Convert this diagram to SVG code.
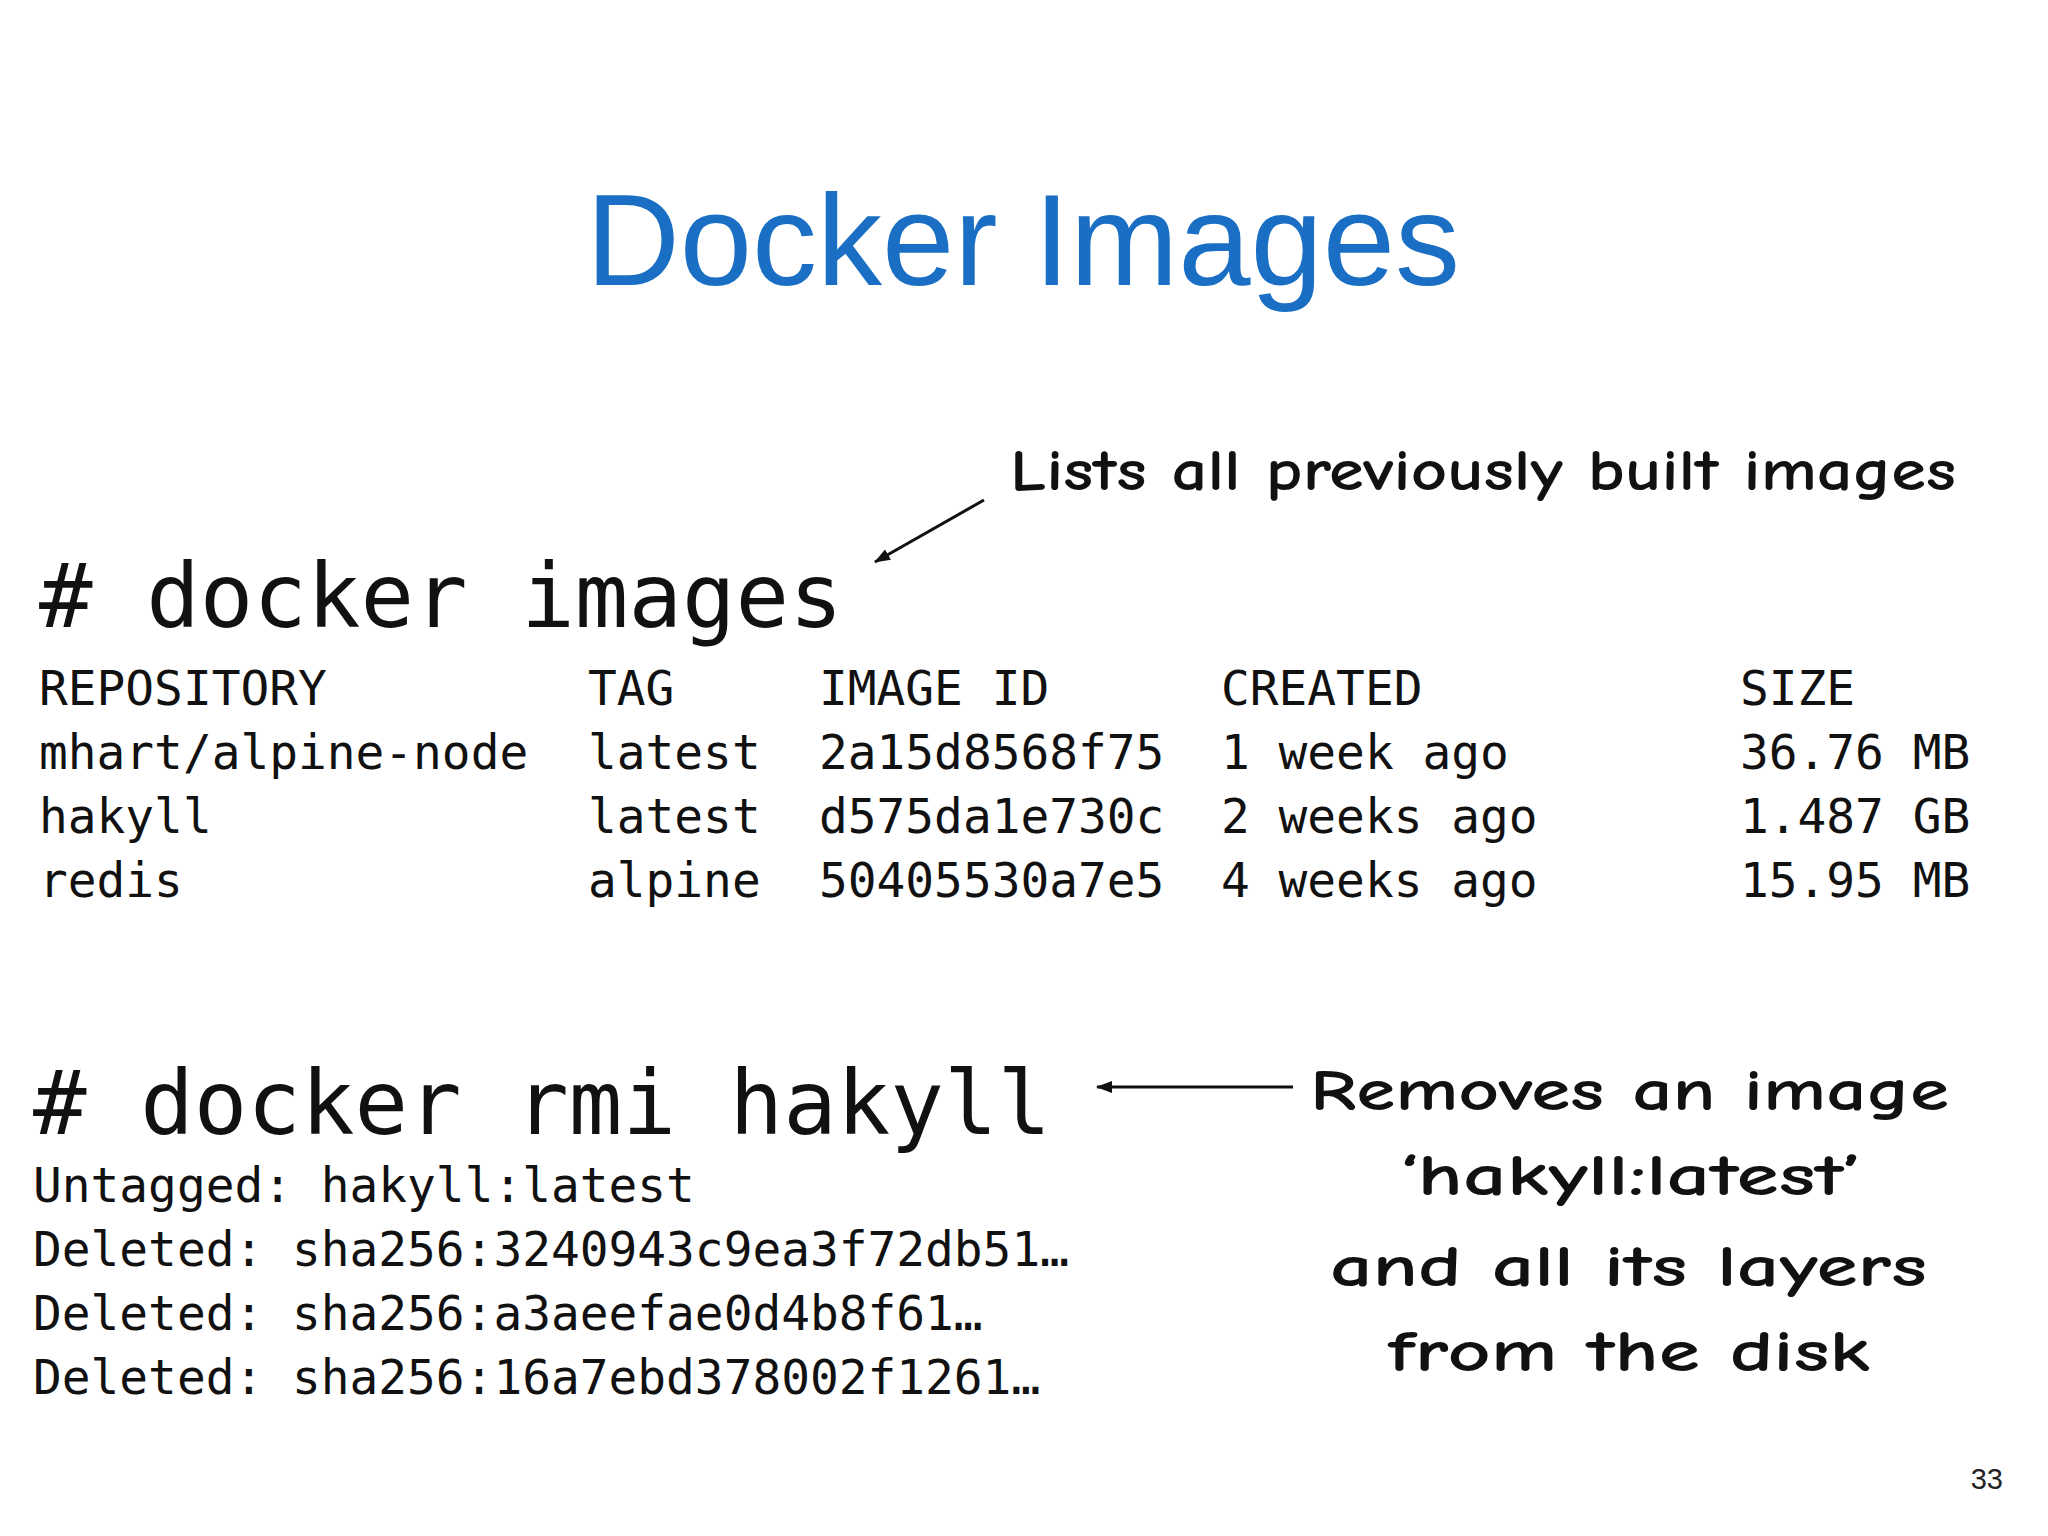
<svg xmlns="http://www.w3.org/2000/svg" width="2048" height="1536" viewBox="0 0 2048 1536">
<style>
.m{font-family:"DejaVu Sans Mono","Liberation Mono",monospace;fill:#111}
.s{font-size:47.8px}
.b{font-size:89px}
.h{font-family:"Comic Neue","DejaVu Sans","Liberation Sans",sans-serif;font-size:58px;fill:#111;font-weight:bold}
</style>
<defs><marker id="a" markerWidth="16" markerHeight="12" refX="15" refY="6" orient="auto" markerUnits="userSpaceOnUse" viewBox="0 0 16 12"><path d="M0,0L16,6L0,12z" fill="#111"/></marker></defs>
<rect width="2048" height="1536" fill="#fff"/>
<text x="1023" y="285" text-anchor="middle" font-family="'Liberation Sans',Arial,sans-serif" font-size="130" fill="#1a6fc4">Docker Images</text>
<g id="cmd1"><text class="m b" x="39" y="627">#&#160;docker images</text></g>
<g id="table" class="m s">
<text x="39" y="705">REPOSITORY</text><text x="588" y="705">TAG</text><text x="819" y="705">IMAGE ID</text><text x="1221" y="705">CREATED</text><text x="1740" y="705">SIZE</text>
<text x="39" y="769">mhart/alpine-node</text><text x="588" y="769">latest</text><text x="819" y="769">2a15d8568f75</text><text x="1221" y="769">1 week ago</text><text x="1740" y="769">36.76 MB</text>
<text x="39" y="833">hakyll</text><text x="588" y="833">latest</text><text x="819" y="833">d575da1e730c</text><text x="1221" y="833">2 weeks ago</text><text x="1740" y="833">1.487 GB</text>
<text x="39" y="897">redis</text><text x="588" y="897">alpine</text><text x="819" y="897">50405530a7e5</text><text x="1221" y="897">4 weeks ago</text><text x="1740" y="897">15.95 MB</text>
</g>
<g id="cmd2"><text class="m b" x="33" y="1134">#&#160;docker rmi hakyll</text></g>
<g id="out" class="m s">
<text x="33" y="1202">Untagged: hakyll:latest</text>
<text x="33" y="1266">Deleted: sha256:3240943c9ea3f72db51…</text>
<text x="33" y="1330">Deleted: sha256:a3aeefae0d4b8f61…</text>
<text x="33" y="1394">Deleted: sha256:16a7ebd378002f1261…</text>
</g>
<g id="note1"><text class="h" x="1010" y="490" textLength="946" lengthAdjust="spacingAndGlyphs">Lists all previously built images</text></g>
<g id="note2">
<text class="h" x="1310" y="1110" textLength="639" lengthAdjust="spacingAndGlyphs">Removes an image</text>
<text class="h" x="1400" y="1195" textLength="461" lengthAdjust="spacingAndGlyphs">‘hakyll:latest’</text>
<text class="h" x="1330" y="1286" textLength="597" lengthAdjust="spacingAndGlyphs">and all its layers</text>
<text class="h" x="1388" y="1371" textLength="482" lengthAdjust="spacingAndGlyphs">from the disk</text>
</g>
<g id="connectors" stroke="#111" stroke-width="3" fill="none">
<line x1="984" y1="500" x2="875" y2="562" marker-end="url(#a)"/>
<line x1="1293" y1="1087" x2="1097" y2="1087" marker-end="url(#a)"/>
</g>
<text x="2003" y="1489" text-anchor="end" font-family="'Liberation Sans',sans-serif" font-size="29" fill="#222">33</text>
</svg>
